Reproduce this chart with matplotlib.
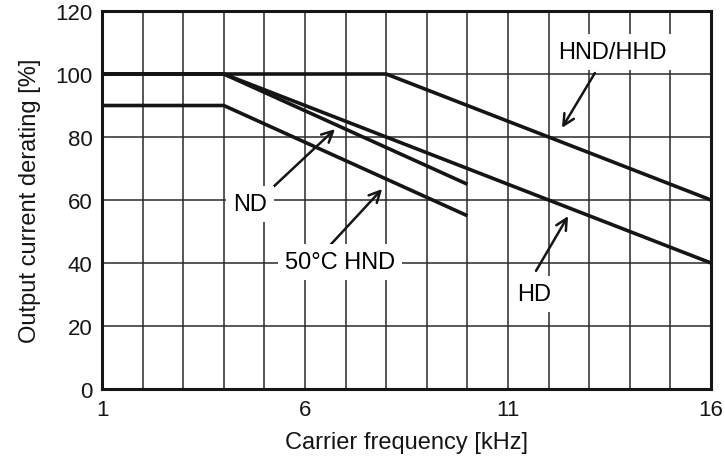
import numpy as np
import matplotlib.pyplot as plt

plt.rcParams['font.family'] = ['Liberation Sans', 'DejaVu Sans']

# derating curves (carrier frequency kHz, output current %)
hnd_hhd_x = [1, 8, 16]
hnd_hhd_y = [100, 100, 60]
hd_x = [1, 4, 16]
hd_y = [100, 100, 40]
nd_x = [1, 4, 10]
nd_y = [100, 100, 65]
hnd50_x = [1, 4, 10]
hnd50_y = [90, 90, 55]

x_ticks = [1, 6, 11, 16]
y_ticks = [0, 20, 40, 60, 80, 100, 120]

fig = plt.figure(figsize=(7.25, 4.64), dpi=100)
ax = fig.add_axes([102/725, 1 - 390/464, 609/725, 378/464])

for xg in range(2, 16):
    ax.axvline(xg, color='#2a2a2a', lw=1.1, zorder=1)
for yg in [20, 40, 60, 80, 100]:
    ax.axhline(yg, color='#2a2a2a', lw=1.1, zorder=1)

for xs, ys in [(hnd_hhd_x, hnd_hhd_y), (hd_x, hd_y), (nd_x, nd_y), (hnd50_x, hnd50_y)]:
    ax.plot(xs, ys, color='#151515', lw=2.6, solid_capstyle='butt', zorder=3)

box = dict(boxstyle='square,pad=0.3', fc='white', ec='none')
arrow = dict(arrowstyle='->,head_width=0.4,head_length=0.8', color='#151515', lw=1.8, shrinkA=0, shrinkB=0)
fs = 17

ax.annotate('HND/HHD', xy=(12.33, 82.9), xytext=(13.56, 107), fontsize=fs,
            ha='center', va='center', bbox=box, zorder=5)
ax.annotate('', xy=(12.33, 82.9), xytext=(13.14, 100.3), arrowprops=arrow, zorder=4)

ax.annotate('ND', xy=(6.74, 82.5), xytext=(4.65, 58.7), fontsize=fs,
            ha='center', va='center', bbox=box, zorder=5)
ax.annotate('', xy=(6.74, 82.5), xytext=(5.14, 63.2), arrowprops=arrow, zorder=4)

ax.annotate('50°C HND', xy=(7.9, 63.5), xytext=(6.86, 40.3), fontsize=fs,
            ha='center', va='center', bbox=box, zorder=5)
ax.annotate('', xy=(7.9, 63.5), xytext=(6.6, 45.4), arrowprops=arrow, zorder=4)

ax.annotate('HD', xy=(12.48, 54.9), xytext=(11.64, 30.2), fontsize=fs,
            ha='center', va='center', bbox=box, zorder=5)
ax.annotate('', xy=(12.48, 54.9), xytext=(11.69, 37.5), arrowprops=arrow, zorder=4)

ax.set_xlim(1, 16)
ax.set_ylim(0, 120)
ax.set_xticks(x_ticks)
ax.set_yticks(y_ticks)
ax.tick_params(length=0, labelsize=16, colors='#151515', pad=7)
for s in ax.spines.values():
    s.set_linewidth(2.2)
    s.set_color('#151515')
    s.set_zorder(6)

ax.set_xlabel('Carrier frequency [kHz]', fontsize=fs, color='#151515', labelpad=8)
ax.set_ylabel('Output current derating [%]', fontsize=fs, color='#151515', labelpad=10)

fig.savefig('out.png', dpi=100)
